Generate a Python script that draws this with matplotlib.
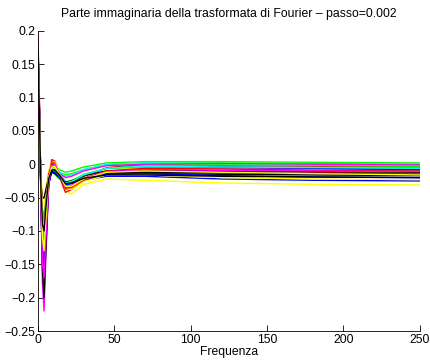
import matplotlib.pyplot as plt
import numpy as np

plt.rcParams['font.family'] = ['Liberation Sans', 'DejaVu Sans']

freq = [0, 1, 2, 3, 4, 5, 7, 9, 11, 14, 18, 22, 30, 45, 70, 120, 180, 250]

red_curves = [
    [0.19, 0.09, -0.06, -0.15, -0.17, -0.12, -0.03, 0.007, 0.005, -0.015, -0.038, -0.035, -0.022, -0.008, -0.004, -0.006, -0.007, -0.008],
    [0.18, 0.08, -0.04, -0.10, -0.12, -0.08, -0.02, 0.004, 0.002, -0.018, -0.042, -0.038, -0.024, -0.012, -0.008, -0.010, -0.012, -0.013],
    [0.17, 0.07, -0.03, -0.07, -0.08, -0.06, -0.015, 0.000, -0.004, -0.020, -0.035, -0.032, -0.020, -0.005, 0.000, -0.002, -0.003, -0.003],
    [0.18, 0.08, -0.05, -0.13, -0.15, -0.10, -0.025, 0.002, 0.000, -0.016, -0.036, -0.034, -0.021, -0.010, -0.006, -0.007, -0.009, -0.010],
]
green_curves = [
    [0.18, 0.08, -0.05, -0.14, -0.16, -0.11, -0.03, -0.002, -0.004, -0.008, -0.012, -0.010, -0.004, 0.002, 0.004, 0.004, 0.003, 0.002],
    [0.17, 0.07, -0.04, -0.10, -0.11, -0.08, -0.025, -0.006, -0.008, -0.012, -0.016, -0.014, -0.008, -0.001, 0.002, 0.002, 0.001, 0.000],
    [0.16, 0.06, -0.03, -0.07, -0.08, -0.06, -0.020, -0.012, -0.015, -0.022, -0.027, -0.024, -0.016, -0.008, -0.004, -0.004, -0.005, -0.006],
    [0.17, 0.07, -0.04, -0.12, -0.13, -0.09, -0.025, -0.008, -0.010, -0.019, -0.029, -0.026, -0.015, -0.006, -0.002, -0.001, -0.002, -0.003],
]
blue_curves = [
    [0.18, 0.08, -0.05, -0.15, -0.18, -0.12, -0.03, -0.006, -0.004, -0.014, -0.028, -0.030, -0.024, -0.018, -0.018, -0.022, -0.024, -0.025],
    [0.17, 0.07, -0.04, -0.11, -0.13, -0.09, -0.025, -0.010, -0.010, -0.018, -0.030, -0.028, -0.020, -0.012, -0.010, -0.012, -0.014, -0.016],
    [0.16, 0.06, -0.03, -0.08, -0.09, -0.07, -0.020, -0.008, -0.006, -0.016, -0.026, -0.026, -0.018, -0.006, -0.002, -0.004, -0.006, -0.008],
    [0.17, 0.07, -0.04, -0.13, -0.15, -0.10, -0.028, -0.012, -0.012, -0.020, -0.031, -0.029, -0.022, -0.015, -0.014, -0.017, -0.019, -0.020],
]
cyan_curves = [
    [0.18, 0.08, -0.05, -0.16, -0.19, -0.13, -0.03, -0.008, -0.006, -0.016, -0.030, -0.028, -0.018, -0.008, -0.005, -0.006, -0.008, -0.010],
    [0.17, 0.07, -0.04, -0.12, -0.14, -0.10, -0.025, -0.012, -0.012, -0.020, -0.032, -0.030, -0.020, -0.010, -0.006, -0.008, -0.010, -0.012],
    [0.16, 0.06, -0.03, -0.09, -0.10, -0.08, -0.020, -0.006, -0.006, -0.012, -0.018, -0.016, -0.008, 0.000, 0.002, 0.001, 0.000, -0.001],
    [0.17, 0.07, -0.04, -0.11, -0.12, -0.09, -0.022, -0.006, -0.004, -0.014, -0.028, -0.026, -0.016, -0.006, -0.003, -0.004, -0.005, -0.006],
]
magenta_curves = [
    [0.19, 0.09, -0.06, -0.18, -0.22, -0.15, -0.035, -0.004, -0.002, -0.012, -0.030, -0.030, -0.018, -0.006, -0.002, -0.002, -0.004, -0.005],
    [0.17, 0.07, -0.04, -0.12, -0.14, -0.10, -0.025, -0.006, -0.006, -0.016, -0.032, -0.030, -0.020, -0.008, -0.004, -0.005, -0.006, -0.007],
    [0.16, 0.06, -0.03, -0.08, -0.09, -0.07, -0.020, -0.006, -0.008, -0.014, -0.020, -0.018, -0.010, -0.002, 0.000, 0.001, 0.000, -0.001],
    [0.18, 0.08, -0.05, -0.15, -0.17, -0.12, -0.030, -0.002, 0.000, -0.014, -0.034, -0.032, -0.021, -0.011, -0.008, -0.009, -0.010, -0.011],
]
yellow_curves = [
    [0.15, 0.07, -0.03, -0.06, -0.06, -0.045, -0.010, 0.004, 0.004, -0.012, -0.040, -0.045, -0.030, -0.022, -0.024, -0.028, -0.030, -0.031],
    [0.14, 0.06, -0.02, -0.05, -0.05, -0.04, -0.012, 0.002, 0.001, -0.014, -0.036, -0.038, -0.026, -0.016, -0.016, -0.020, -0.022, -0.023],
    [0.13, 0.05, -0.02, -0.08, -0.10, -0.07, -0.020, -0.006, -0.006, -0.016, -0.030, -0.030, -0.020, -0.008, -0.006, -0.008, -0.010, -0.012],
    [0.16, 0.07, -0.03, -0.11, -0.13, -0.09, -0.022, -0.004, -0.003, -0.015, -0.033, -0.033, -0.022, -0.012, -0.010, -0.012, -0.014, -0.016],
]
black_curves = [
    [0.18, 0.08, -0.05, -0.16, -0.20, -0.14, -0.030, -0.010, -0.010, -0.018, -0.028, -0.027, -0.019, -0.014, -0.014, -0.015, -0.016, -0.017],
    [0.16, 0.06, -0.03, -0.05, -0.05, -0.04, -0.020, -0.012, -0.010, -0.017, -0.030, -0.029, -0.020, -0.013, -0.012, -0.013, -0.014, -0.015],
    [0.17, 0.07, -0.04, -0.11, -0.13, -0.09, -0.025, -0.012, -0.014, -0.020, -0.027, -0.025, -0.017, -0.010, -0.009, -0.010, -0.011, -0.012],
    [0.17, 0.07, -0.04, -0.09, -0.10, -0.07, -0.022, -0.009, -0.008, -0.016, -0.029, -0.028, -0.021, -0.016, -0.016, -0.018, -0.019, -0.020],
]

groups = [
    ('#ff0000', red_curves), ('#00ff00', green_curves), ('#0000ff', blue_curves),
    ('#00ffff', cyan_curves), ('#ff00ff', magenta_curves), ('#ffff00', yellow_curves),
    ('#000000', black_curves),
]

yticks = [-0.25, -0.2, -0.15, -0.1, -0.05, 0, 0.05, 0.1, 0.15, 0.2]
ytick_labels = ['\u22120.25', '\u22120.2', '\u22120.15', '\u22120.1', '\u22120.05',
                '0', '0.05', '0.1', '0.15', '0.2']
xticks = [0, 50, 100, 150, 200, 250]

fig = plt.figure(figsize=(4.31, 3.63), dpi=100)
ax = fig.add_axes([0.088, 0.088, 0.886, 0.827])

# interleave colours like MATLAB would cycle through them
for i in range(4):
    for color, curves in groups:
        ax.plot(freq, curves[i], color=color, lw=1.0)

ax.set_xlim(0, 250)
ax.set_ylim(-0.25, 0.2)
ax.set_xticks(xticks)
ax.set_yticks(yticks)
ax.set_yticklabels(ytick_labels)
ax.tick_params(direction='in', length=4, width=0.6, labelsize=8.7, pad=2)
ax.spines['top'].set_visible(False)
ax.spines['right'].set_visible(False)
for s in ('left', 'bottom'):
    ax.spines[s].set_linewidth(0.6)

ax.set_title('Parte immaginaria della trasformata di Fourier \u2013 passo=0.002',
             fontsize=8.8, pad=10)
ax.set_xlabel('Frequenza', fontsize=8.7, labelpad=0)

fig.savefig('out.png', dpi=100)
